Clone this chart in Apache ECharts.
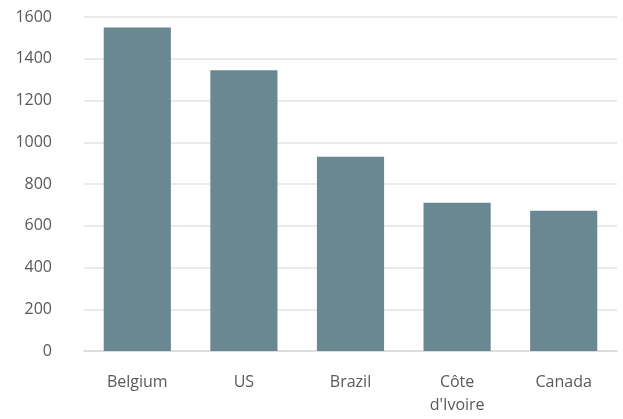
<!DOCTYPE html>
<html>
<head>
<meta charset="utf-8">
<script src="https://cdn.jsdelivr.net/npm/echarts@6/dist/echarts.min.js"></script>
<style>html,body{margin:0;padding:0;background:#fff;}#c{width:623px;height:419px;}</style>
</head>
<body>
<div id="c"></div>
<script>
const categories = ["Belgium", "US", "Brazil", "Côte\nd'Ivoire", "Canada"];
const values = [1550, 1345, 930, 710, 672];
const yTicks = [0, 200, 400, 600, 800, 1000, 1200, 1400, 1600];

const chart = echarts.init(document.getElementById('c'), null, {renderer: 'canvas'});
chart.setOption({
  animation: false,
  grid: {left: 84, right: 6, top: 17, bottom: 68, containLabel: false},
  xAxis: {
    type: 'category',
    data: categories,
    axisLine: {show: true, lineStyle: {color: '#d9d9d9', width: 1.5}},
    axisTick: {show: false},
    axisLabel: {color: '#595959', fontFamily: 'Open Sans', fontSize: 16, lineHeight: 23, margin: 20, interval: 0}
  },
  yAxis: {
    type: 'value',
    min: yTicks[0],
    max: yTicks[yTicks.length - 1],
    interval: 200,
    axisLine: {show: false},
    axisTick: {show: false},
    splitLine: {lineStyle: {color: '#e3e3e3', width: 1.5}},
    axisLabel: {color: '#595959', fontFamily: 'Open Sans', fontSize: 16, margin: 32, verticalAlign: 'middle', padding: [6, 0, 0, 0],
      formatter: function (v) { return String(v); }}
  },
  series: [{
    type: 'bar',
    data: values,
    barWidth: '63%',
    itemStyle: {color: '#6A8892'}
  }]
});
</script>
</body>
</html>
